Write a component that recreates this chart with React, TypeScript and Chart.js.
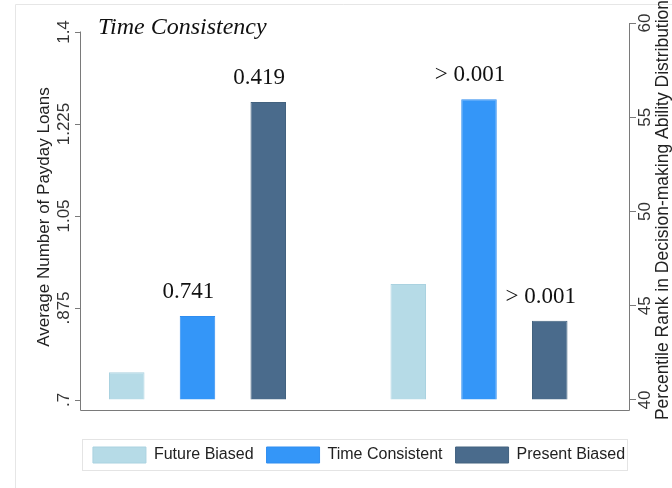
import { useEffect, useRef } from 'react';
import { Chart, registerables } from 'chart.js';

Chart.register(...registerables);

// ---- data ----
const seriesNames = ['Future Biased', 'Time Consistent', 'Present Biased'];
const stackKeys = ['fb', 'tc', 'pb'];
const seriesColors = ['#b6dbe7', '#3496f8', '#4a6b8c'];
const seriesBorders = ['#aad2e0', '#2f8df0', '#43627f'];
const groupPositions = [1, 2];
const loansValues = [0.753, 0.86, 1.267];
const rankValues = [46.15, 55.95, 44.2];
const loansPValues = ['', '0.741', '0.419'];
const rankPValues = ['', '> 0.001', '> 0.001'];
const loansTicks = [0.7, 0.875, 1.05, 1.225, 1.4];
const loansTickLabels = ['.7', '.875', '1.05', '1.225', '1.4'];
const rankTicks = [40, 45, 50, 55, 60];
const rankTickLabels = ['40', '45', '50', '55', '60'];
const titleText = 'Time Consistency';
const loansAxisTitle = 'Average Number of Payday Loans';
const rankAxisTitle = 'Percentile Rank in Decision-making Ability Distribution';

const SANS = '"Liberation Sans", Arial, sans-serif';
const SERIF = '"Liberation Serif", "Times New Roman", serif';

const pLabels: string[] = [...loansPValues, ...rankPValues];

const decor = {
  id: 'decor',
  beforeDraw(chart: any) {
    const ctx = chart.ctx;
    ctx.save();
    ctx.fillStyle = '#ffffff';
    ctx.fillRect(0, 0, chart.width, chart.height);
    ctx.strokeStyle = '#e6e6e6';
    ctx.lineWidth = 1;
    ctx.beginPath();
    ctx.moveTo(15.5, chart.height);
    ctx.lineTo(15.5, 4.5);
    ctx.lineTo(chart.width, 4.5);
    ctx.stroke();
    ctx.restore();
  },
  afterDraw(chart: any) {
    const ctx = chart.ctx;
    const area = chart.chartArea;
    const yL = chart.scales.y;
    const yR = chart.scales.y2;
    ctx.save();

    // axis lines
    ctx.strokeStyle = '#7a7a7a';
    ctx.lineWidth = 1;
    const lx = Math.round(area.left) - 0.5;
    const rx = Math.round(area.right) - 0.5;
    const by = Math.round(area.bottom) - 0.5;
    ctx.beginPath();
    ctx.moveTo(lx, Math.round(yL.getPixelForValue(loansTicks[loansTicks.length - 1])) - 0.5);
    ctx.lineTo(lx, by);
    ctx.lineTo(rx, by);
    ctx.lineTo(rx, Math.round(area.top));
    ctx.stroke();

    // tick labels (rotated)
    ctx.fillStyle = '#333333';
    ctx.font = '17px ' + SANS;
    ctx.textAlign = 'center';
    ctx.textBaseline = 'middle';
    loansTicks.forEach((v, i) => {
      const y = yL.getPixelForValue(v);
      ctx.save();
      ctx.translate(area.left - 17, y);
      ctx.rotate(-Math.PI / 2);
      ctx.fillText(loansTickLabels[i], 0, 0);
      ctx.restore();
    });
    rankTicks.forEach((v, i) => {
      const y = yR.getPixelForValue(v);
      ctx.save();
      ctx.translate(area.right + 15, y);
      ctx.rotate(-Math.PI / 2);
      ctx.fillText(rankTickLabels[i], 0, 0);
      ctx.restore();
    });

    // axis titles
    ctx.fillStyle = '#222222';
    ctx.save();
    ctx.translate(area.left - 37, (area.top + area.bottom) / 2);
    ctx.rotate(-Math.PI / 2);
    ctx.fillText(loansAxisTitle, 0, 0);
    ctx.restore();
    ctx.save();
    ctx.font = '17.5px ' + SANS;
    ctx.translate(area.right + 33, (area.top + area.bottom) / 2 - 7);
    ctx.rotate(-Math.PI / 2);
    ctx.fillText(rankAxisTitle, 0, 0);
    ctx.restore();

    // chart title
    ctx.font = 'italic 24px ' + SERIF;
    ctx.textAlign = 'left';
    ctx.fillStyle = '#111111';
    ctx.fillText(titleText, area.left + 17, area.top + 5);

    // bar p-value labels
    ctx.font = '23px ' + SERIF;
    ctx.textAlign = 'center';
    chart.data.datasets.forEach((ds: any, i: number) => {
      const meta = chart.getDatasetMeta(i);
      const el = meta.data[0];
      const text = pLabels[i];
      if (!el || !text) return;
      ctx.fillText(text, el.x - 9, el.y - 24);
    });

    // legend frame
    const lg = chart.legend;
    const hb = lg && lg.legendHitBoxes;
    if (hb && hb.length) {
      const l = hb[0].left - 11;
      const last = hb[hb.length - 1];
      const r = last.left + last.width + 2;
      ctx.strokeStyle = '#e4e4e4';
      ctx.strokeRect(Math.round(l) + 0.5, Math.round(lg.top) + 5.5, Math.round(r - l), 31);
    }
    ctx.restore();
  },
};

export default function App() {
  const ref = useRef<HTMLCanvasElement | null>(null);

  useEffect(() => {
    if (!ref.current) return;
    const datasets: any[] = [
      ...seriesNames.map((name, i) => ({
        label: name,
        data: [{ x: groupPositions[0], y: loansValues[i] }],
        yAxisID: 'y',
        stack: stackKeys[i],
        base: loansTicks[0],
        backgroundColor: seriesColors[i],
        borderColor: seriesBorders[i],
        borderWidth: 1,
      })),
      ...seriesNames.map((name, i) => ({
        label: name,
        data: [{ x: groupPositions[1], y: rankValues[i] }],
        yAxisID: 'y2',
        stack: stackKeys[i],
        base: rankTicks[0],
        backgroundColor: seriesColors[i],
        borderColor: seriesBorders[i],
        borderWidth: 1,
      })),
    ];

    const chart = new Chart(ref.current, {
      type: 'bar',
      data: { datasets },
      options: {
        responsive: false,
        animation: false,
        events: [],
        categoryPercentage: 0.754,
        barPercentage: 0.502,
        layout: { padding: { top: 23, left: 46, right: 0, bottom: 15 } },
        plugins: {
          tooltip: { enabled: false },
          title: { display: false },
          legend: {
            position: 'bottom',
            labels: {
              boxWidth: 53,
              boxHeight: 16,
              padding: 13,
              color: '#222222',
              font: { family: SANS, size: 16 },
              filter: (item: any) => item.datasetIndex < 3,
            },
          },
        },
        scales: {
          x: {
            type: 'linear',
            offset: false,
            min: 0.58615,
            max: 2.53641,
            grid: { display: false, offset: false },
            border: { display: false },
            ticks: { display: false },
            afterBuildTicks: (s: any) => {
              s.ticks = groupPositions.map((v) => ({ value: v }));
            },
            afterFit: (s: any) => {
              s.height = 23;
            },
          },
          y: {
            type: 'linear',
            position: 'left',
            min: 0.67908,
            max: 1.41712,
            border: { display: false },
            grid: { drawOnChartArea: false, drawTicks: true, tickLength: 6, color: '#7a7a7a' },
            ticks: { display: false },
            afterBuildTicks: (s: any) => {
              s.ticks = loansTicks.map((v) => ({ value: v }));
            },
            afterFit: (s: any) => {
              s.width = 35;
            },
          },
          y2: {
            type: 'linear',
            position: 'right',
            min: 39.416,
            max: 60,
            border: { display: false },
            grid: { drawOnChartArea: false, drawTicks: true, tickLength: 6, color: '#7a7a7a' },
            ticks: { display: false },
            afterBuildTicks: (s: any) => {
              s.ticks = rankTicks.map((v) => ({ value: v }));
            },
            afterFit: (s: any) => {
              s.width = 42;
            },
          },
        },
      } as any,
      plugins: [decor],
    });
    return () => chart.destroy();
  }, []);

  return (
    <div style={{ position: 'absolute', left: 0, top: 0, width: 672, height: 488, background: '#fff' }}>
      <canvas ref={ref} width={672} height={488} style={{ display: 'block', width: 672, height: 488 }} />
    </div>
  );
}
